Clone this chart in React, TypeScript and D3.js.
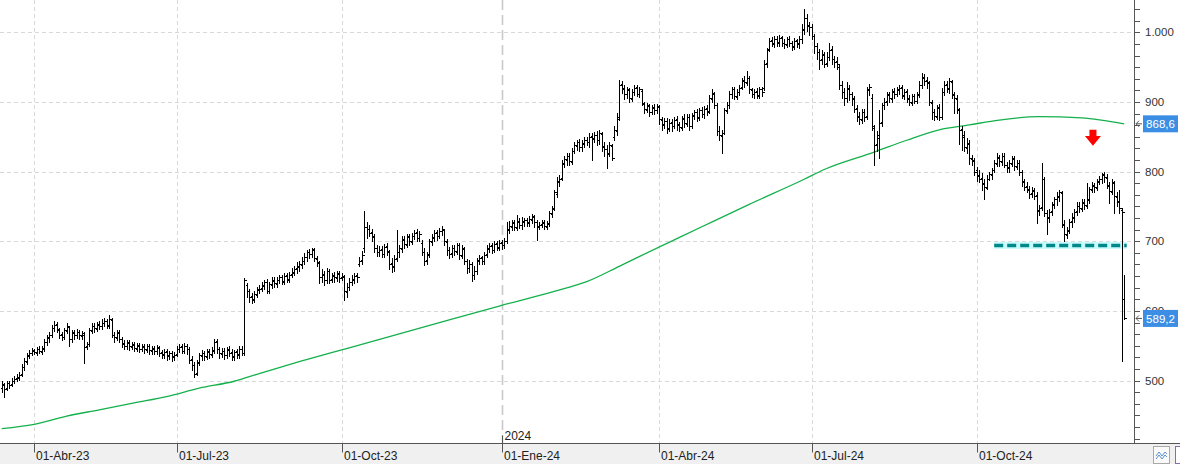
import React from 'react';
import * as d3 from 'd3';

// ---------- data ----------
const opens = [
490,494,489,497,495,499,503,504,509,519,
527,535,539,544,540,546,541,547,555,561,
566,575,581,573,567,562,571,577,559,569,
565,570,564,566,549,553,571,579,574,581,
578,582,586,579,587,565,561,569,559,554,
550,555,548,552,546,551,545,549,544,550,
543,547,542,548,541,537,542,535,540,534,
538,546,549,542,550,545,531,522,511,526,
535,540,534,542,537,544,557,546,538,543,
536,545,541,534,542,537,546,540,637,629,
621,617,623,631,633,636,642,628,637,644,
639,644,649,642,651,645,653,655,661,663,
666,671,677,685,681,689,675,669,649,653,
644,657,646,651,647,653,648,649,627,634,
641,645,651,668,673,690,721,717,713,706,
691,684,689,681,693,685,669,663,676,684,
689,703,695,707,699,707,713,704,698,684,
673,682,699,705,713,707,714,716,699,687,
683,691,685,695,679,689,671,661,667,651,
657,672,677,671,681,689,694,687,697,691,
699,694,701,716,721,727,719,729,723,728,
731,726,731,736,727,721,725,727,721,726,
739,748,768,786,791,811,817,823,814,829,
837,843,835,841,846,842,851,847,853,845,
854,837,833,825,837,850,858,878,926,919,
911,917,904,914,921,911,916,897,889,894,
885,893,888,893,874,867,873,861,871,865,
875,867,863,877,869,879,865,881,886,877,
889,882,891,887,904,913,895,859,851,856,
887,896,911,919,907,914,921,931,927,934,
917,911,916,909,919,920,956,976,989,983,
991,985,993,984,982,991,984,979,989,983,
991,1004,1021,1009,1007,994,981,971,961,969,
956,964,976,961,959,950,924,914,906,919,
911,904,891,879,874,886,880,917,905,862,
840,848,871,896,901,911,904,916,911,917,
921,909,916,904,899,909,901,911,924,936,
931,927,899,886,879,893,879,914,926,919,
929,911,904,889,861,852,834,841,818,816,
802,794,791,783,777,789,795,803,811,821,
814,823,809,805,811,819,807,813,799,786,
779,774,769,773,766,744,749,789,741,734,
743,753,761,764,769,724,709,716,729,734,
743,751,747,756,751,759,774,781,777,786,
789,796,791,781,771,784,764,757,745,617,
];

const highs = [
499,497,500,500,503,506,509,512,524,532,
540,544,547,546,548,549,549,560,566,570,
580,585,584,576,570,576,582,579,572,573,
574,573,571,569,556,576,582,582,584,585,
588,590,589,594,590,570,572,572,563,558,
558,558,555,555,554,554,552,552,553,553,
550,550,551,550,544,545,545,543,543,541,
549,553,552,554,553,548,535,526,530,540,
544,543,546,546,548,559,559,548,547,547,
548,549,545,544,545,550,549,647,640,632,
626,628,634,637,641,645,646,642,648,648,
649,652,652,655,654,656,661,665,670,672,
677,683,688,689,691,691,679,672,660,657,
662,660,655,656,658,657,655,652,640,647,
652,655,655,677,686,743,727,724,717,710,
695,693,693,696,697,688,676,680,716,694,
707,707,710,711,712,716,717,715,702,690,
684,703,710,716,716,719,722,718,703,692,
694,695,697,697,694,692,675,673,670,664,
676,680,679,684,694,698,697,700,700,702,
702,704,727,729,731,730,737,733,735,734,
734,736,739,738,731,728,731,730,729,744,
750,774,792,795,816,823,827,826,834,842,
846,847,845,849,850,856,856,857,858,860,
857,842,838,842,840,866,884,932,930,925,
922,920,918,925,924,922,918,900,898,897,
896,897,897,895,879,877,877,875,876,878,
880,871,880,882,882,882,884,888,890,892,
893,894,895,910,918,915,898,865,860,892,
900,916,922,922,919,924,934,937,944,937,
920,919,920,922,922,960,978,992,993,994,
994,996,995,990,993,994,988,992,991,994,
1012,1033,1026,1015,1012,998,985,976,974,972,
972,984,980,966,964,955,930,920,928,925,
915,908,896,885,890,890,922,926,912,867,
858,889,899,905,914,915,919,920,922,924,
924,918,918,910,912,912,914,930,942,940,
936,930,903,890,896,897,920,930,930,934,
932,915,910,892,866,858,848,845,824,820,
806,802,798,790,795,800,805,816,826,824,
826,826,814,816,822,822,816,816,803,790,
785,780,778,776,770,752,812,792,745,746,
756,764,770,774,772,730,720,732,740,746,
756,756,760,760,783,778,785,784,790,794,
798,800,796,785,789,786,770,774,748,652,
];

const lows = [
484,477,486,490,492,496,500,501,506,515,
524,532,536,538,537,539,538,543,551,555,
562,571,570,561,558,560,568,550,556,560,
561,560,560,525,545,550,568,570,571,574,
574,578,576,576,562,556,558,555,548,545,
545,544,545,542,543,541,542,539,541,538,
538,538,538,535,532,533,530,531,528,529,
535,541,539,539,538,525,515,505,508,522,
530,530,531,533,534,540,540,533,534,531,
532,535,530,530,533,533,536,537,620,613,
612,613,620,626,629,632,625,625,633,635,
635,640,638,638,641,641,648,651,655,658,
662,667,672,676,677,672,664,640,642,637,
640,640,642,642,643,642,644,615,620,630,
637,640,642,664,668,685,705,707,700,684,
679,679,677,678,680,660,656,658,672,678,
684,690,692,695,696,703,700,700,680,666,
668,678,695,700,702,704,709,694,680,676,
678,680,681,675,676,668,655,656,643,646,
653,668,667,668,677,684,683,684,687,688,
689,690,698,712,716,716,716,719,718,722,
722,722,726,720,702,717,720,717,718,722,
735,745,764,780,788,806,810,810,811,826,
831,830,830,836,838,836,816,842,838,840,
830,822,805,822,816,846,852,874,913,904,
905,900,901,910,908,907,895,884,886,880,
882,883,884,868,860,862,856,858,858,862,
860,858,860,864,865,860,862,876,873,874,
878,877,881,884,900,892,852,846,827,854,
884,892,906,904,904,910,918,922,924,913,
907,906,905,906,908,917,950,973,980,979,
981,981,980,978,979,980,975,976,979,978,
985,998,1002,996,990,970,962,947,955,950,
952,960,955,950,948,918,905,895,900,903,
896,886,872,868,870,872,876,910,860,809,
830,819,866,890,896,900,900,906,908,912,
906,904,900,895,896,898,898,907,920,925,
920,895,876,874,876,874,876,910,914,913,
905,884,884,840,831,830,826,811,810,795,
787,785,774,760,775,788,790,800,808,808,
810,806,800,800,808,803,804,795,780,773,
770,762,764,760,726,738,745,736,710,728,
738,748,752,758,720,700,705,712,721,728,
738,742,744,746,748,755,770,770,773,782,
784,785,776,755,768,740,750,740,528,588,
];

const closes = [
495,488,497,494,499,502,505,508,520,528,
536,540,543,541,545,542,546,556,562,565,
576,580,574,566,563,572,578,560,568,566,
569,565,568,548,552,572,578,575,580,579,
583,585,580,588,566,562,568,560,553,550,
554,549,551,547,550,546,548,545,549,544,
546,543,547,540,538,541,536,539,535,537,
545,548,543,549,546,530,522,510,525,536,
539,535,541,538,543,556,545,539,542,537,
544,540,535,541,538,545,540,645,628,620,
616,624,630,632,637,641,629,638,643,640,
645,648,643,650,646,652,656,660,664,667,
672,678,684,682,688,676,670,648,652,645,
658,645,650,648,654,647,650,628,635,642,
646,650,648,672,680,720,718,712,708,690,
685,688,682,692,686,668,664,675,685,690,
702,696,706,700,708,712,705,710,685,672,
680,700,706,712,708,715,717,700,688,682,
690,686,694,680,690,672,662,668,652,658,
673,676,672,680,690,693,688,696,692,698,
695,700,718,722,726,720,728,724,729,730,
727,732,735,728,722,724,726,722,725,740,
746,770,785,790,812,818,822,815,830,838,
842,836,840,845,843,850,848,852,846,855,
836,832,826,838,820,860,875,925,920,912,
918,905,915,920,912,918,898,890,895,886,
892,889,894,875,868,872,862,870,866,874,
868,864,876,870,878,866,880,885,878,888,
883,890,886,905,912,896,858,852,855,888,
895,912,918,908,915,920,930,928,935,918,
912,915,910,918,914,955,975,988,984,990,
986,992,985,983,990,985,980,988,984,990,
1005,1020,1010,1008,995,980,972,960,968,955,
965,975,962,958,955,925,915,905,920,912,
905,890,880,875,885,878,918,922,866,838,
852,870,895,900,910,905,915,912,918,920,
910,915,905,900,908,902,910,925,935,930,
928,900,885,880,892,878,915,925,920,930,
910,905,890,860,850,835,840,820,815,800,
795,790,782,778,790,796,802,812,820,815,
822,810,806,812,818,808,812,800,785,778,
775,768,772,765,745,748,790,740,735,742,
752,760,765,770,725,710,715,728,735,742,
750,748,755,752,760,775,780,778,785,790,
795,792,780,772,785,765,758,748,742,589.2,
];

// moving average (green) read at bar indices
const maIdx = [0,13,26,39,53,66,79,93,103,119,139,159,179,199,221,234,247,255,279,299,321,329,349,362,375,387,399,415,432,449];
const maVal = [431,437,449,458,468,477,489,499,510,527,547,567,587,607,628,642,664,678,719,753,789,803,828,845,860,867,874,879,877,868.6];

const monthTickIdx = [13, 70, 136, 263, 324, 390];
const monthTickLabels = ['01-Abr-23', '01-Jul-23', '01-Oct-23', '01-Abr-24', '01-Jul-24', '01-Oct-24'];
const yearTickIdx = 200;
const yearTickLabel = '01-Ene-24';
const yearLabel = '2024';
const priceTicks = [500, 600, 700, 800, 900, 1000];

const supportLevel = 694;
const supportFromIdx = 397;
const supportToIdx = 450;
const arrowIdx = 436.5;
const arrowTop = 860;
const arrowBottom = 837;

// ---------- layout ----------
const W = 1180;
const H = 464;
const AXIS_X = 1134;
const AXIS_Y = 443.5;
const FONT = '"Liberation Sans", Arial, sans-serif';

const locale = d3.formatLocale({ decimal: ',', thousands: '.', grouping: [3], currency: ['', ''] });
const fmtInt = locale.format(',');
const fmt1 = locale.format(',.1f');

export default function App() {
  const n = closes.length;
  const x = d3.scaleLinear().domain([0, n - 1]).range([1.7, 1.7 + 2.5 * (n - 1)]);
  const y = d3.scaleLinear().domain([1000, 500]).range([32.3, 380.55]);

  const px = (i: number) => Math.round(x(i)) + 0.5;
  const py = (v: number) => Math.round(y(v)) + 0.5;

  let bars = '';
  for (let i = 0; i < n; i++) {
    const cx = px(i);
    const yh = Math.round(y(highs[i]));
    const yl = Math.round(y(lows[i])) + 1;
    bars += `M${cx},${yh}V${yl}M${cx - 2},${py(opens[i])}H${cx}M${cx},${py(closes[i])}H${cx + 2}`;
  }

  const maLine = d3.line<number>()
    .x((_, k) => x(maIdx[k]))
    .y((v) => y(v))
    .curve(d3.curveMonotoneX)(maVal) || '';

  // minor axis ticks every 100/6
  const minorTicks: number[] = [];
  for (let k = -5; k <= 32; k++) {
    const v = 500 + (k * 100) / 6;
    const yy = y(v);
    if (yy > 2 && yy < AXIS_Y - 2) minorTicks.push(v);
  }

  const lastClose = closes[n - 1];
  const lastMa = maVal[maVal.length - 1];

  const valueBox = (v: number, key: string) => {
    const cy = y(v);
    return (
      <g key={key}>
        <path d={`M${AXIS_X + 8},${cy}H${AXIS_X + 2}M${AXIS_X + 5},${cy - 3}L${AXIS_X + 2},${cy}L${AXIS_X + 5},${cy + 3}`}
          stroke="#555" strokeWidth={1} fill="none" />
        <rect x={1143} y={cy - 8.5} width={35} height={17} fill="#3b8ee3" />
        <text x={1160.5} y={cy} dy="0.36em" textAnchor="middle" fill="#fff" fontSize={11.5} fontFamily={FONT}>{fmt1(v)}</text>
      </g>
    );
  };

  const ax = x(arrowIdx);
  const aTop = y(arrowTop);
  const aBot = y(arrowBottom);
  const aMid = aTop + (aBot - aTop) * 0.38;

  const supY = y(supportLevel);

  return (
    <svg width={W} height={H} style={{ position: 'absolute', left: 0, top: 0, display: 'block', background: '#fff' }}>
      <rect x={0} y={0} width={W} height={H} fill="#fff" />
      {/* horizontal grid */}
      {priceTicks.map((v) => (
        <line key={'g' + v} x1={0} x2={AXIS_X} y1={py(v)} y2={py(v)} stroke="#d9d9d9" strokeDasharray="4,3" />
      ))}
      {/* vertical month grid */}
      {monthTickIdx.map((i) => (
        <line key={'v' + i} x1={px(i)} x2={px(i)} y1={0} y2={AXIS_Y} stroke="#d9d9d9" strokeDasharray="4,3" />
      ))}
      {/* year separator */}
      <line x1={px(yearTickIdx)} x2={px(yearTickIdx)} y1={0} y2={AXIS_Y} stroke="#c9c9c9" strokeWidth={1.6} strokeDasharray="10,5" />
      <text x={px(yearTickIdx) + 2} y={440} fontSize={12} fontFamily={FONT} fill="#222">{yearLabel}</text>

      {/* moving average */}
      <path d={maLine} fill="none" stroke="#14b04c" strokeWidth={1.3} />

      {/* support line */}
      <rect x={x(supportFromIdx)} y={supY - 3.5} width={x(supportToIdx) - x(supportFromIdx)} height={7} fill="#c8fbfb" />
      <line x1={x(supportFromIdx)} x2={x(supportToIdx)} y1={supY} y2={supY} stroke="#00878a" strokeWidth={3.5} strokeDasharray="9,4" />

      {/* OHLC bars */}
      <path d={bars} stroke="#000" strokeWidth={1} fill="none" shapeRendering="crispEdges" />

      {/* red arrow */}
      <path d={`M${ax - 3.5},${aTop}H${ax + 3.5}V${aMid}H${ax + 8}L${ax},${aBot}L${ax - 8},${aMid}H${ax - 3.5}Z`} fill="#ff0000" />

      {/* right axis */}
      <rect x={AXIS_X} y={0} width={W - AXIS_X} height={AXIS_Y} fill="#fff" />
      <line x1={AXIS_X + 0.5} x2={AXIS_X + 0.5} y1={0} y2={AXIS_Y} stroke="#555" />
      {minorTicks.map((v, k) => (
        <line key={'t' + k} x1={AXIS_X} x2={AXIS_X + 6} y1={py(v)} y2={py(v)} stroke="#555" />
      ))}
      {priceTicks.map((v) => (
        <text key={'l' + v} x={1145} y={y(v)} dy="0.36em" fontSize={11.5} fontFamily={FONT} fill="#333">{fmtInt(v)}</text>
      ))}
      {valueBox(lastMa, 'ma')}
      {valueBox(lastClose, 'px')}

      {/* bottom axis */}
      <rect x={0} y={AXIS_Y} width={W} height={H - AXIS_Y} fill="#f0f0f0" />
      <line x1={0} x2={W} y1={AXIS_Y} y2={AXIS_Y} stroke="#555" />
      {monthTickIdx.map((i, k) => (
        <g key={'m' + i}>
          <line x1={px(i)} x2={px(i)} y1={AXIS_Y} y2={AXIS_Y + 9} stroke="#555" />
          <text x={px(i) + 1.5} y={460} fontSize={12} fontFamily={FONT} fill="#222">{monthTickLabels[k]}</text>
        </g>
      ))}
      <line x1={px(yearTickIdx)} x2={px(yearTickIdx)} y1={AXIS_Y - 8} y2={AXIS_Y + 9} stroke="#555" />
      <text x={px(yearTickIdx) + 1.5} y={460} fontSize={12} fontFamily={FONT} fill="#222">{yearTickLabel}</text>

      {/* corner buttons */}
      <rect x={1153.5} y={446.5} width={16} height={17} fill="#fafafa" stroke="#a8a8a8" />
      <path d="M1156,456 L1159,452 L1162,456 L1165,452 L1167,454 M1156,459 L1159,455 L1162,459 L1165,455 L1167,457" stroke="#5b8fd0" fill="none" strokeWidth={1} />
      <rect x={1175.5} y={446.5} width={10} height={17} fill="#fff" stroke="#8a6bb0" />
    </svg>
  );
}
